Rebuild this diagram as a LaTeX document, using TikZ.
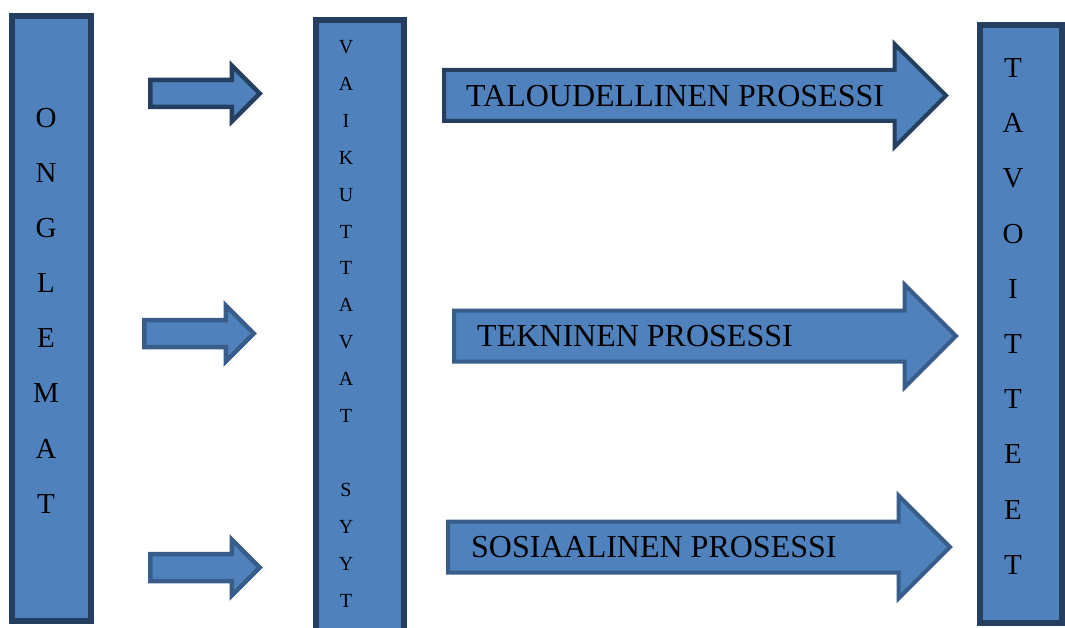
\documentclass[tikz,border=0pt]{standalone}
\usepackage{fontspec}
\setmainfont{Liberation Serif}
\usepackage{xcolor}
\usepackage{tikz}
\usetikzlibrary{shapes.arrows, positioning}

\definecolor{boxfill}{HTML}{4F81BD}
\definecolor{darkline}{HTML}{243F60}
\definecolor{midline}{HTML}{385D8A}

\begin{document}
\begin{tikzpicture}[x=1pt, y=-1pt]
		\tikzstyle{box} = [draw=darkline, fill=boxfill, rectangle, line width=6pt, inner sep=0pt]
		\tikzstyle{bigarrow} = [single arrow, fill=boxfill, line width=4pt, single arrow tip angle=90, single arrow head extend=26pt, inner xsep=0pt, inner ysep=23.5pt, minimum width=0pt, minimum height=502pt, anchor=west]
		\tikzstyle{smallarrow} = [single arrow, fill=boxfill, line width=4.5pt, single arrow tip angle=90, single arrow head extend=14.5pt, inner xsep=0pt, inner ysep=11.25pt, minimum width=0pt, minimum height=109.5pt, anchor=west]
		\tikzstyle{letter} = [inner sep=0pt, font=\fontsize{29}{34}\selectfont]
		\tikzstyle{smallletter} = [inner sep=0pt, font=\fontsize{20}{24}\selectfont]
		\tikzstyle{process} = [inner sep=0pt, anchor=west, font=\fontsize{32}{38}\selectfont]
		
		\useasboundingbox (0, 0) rectangle (1065, 628);
		
		% columns
		\node[box, minimum width=79pt, minimum height=605pt]	at (51.5, 318.5)	(ongelmat)	{};
		\node[box, minimum width=88pt, minimum height=640pt]	at (360, 340)		(syyt)		{};
		\node[box, minimum width=82pt, minimum height=598pt]	at (1021, 324)		(tavoitteet)	{};
		
		\foreach \l [count=\i] in {O,N,G,L,E,M,A,T}
			\node[letter] at (46, 118 + 55.1*\i - 55.1) (ol\i) {\l};
		\foreach \l [count=\i] in {V,A,I,K,U,T,T,A,V,A,T,{},S,Y,Y,T}
			\node[smallletter] at (346, 47 + 36.9*\i - 36.9) (vl\i) {\l};
		\foreach \l [count=\i] in {T,A,V,O,I,T,T,E,E,T}
			\node[letter] at (1013, 68 + 55.2*\i - 55.2) (tl\i) {\l};
		
		% small arrows
		\node[smallarrow, draw=darkline]	at (148, 93.5)	(a1)	{};
		\node[smallarrow, draw=midline]		at (142, 333.5)	(a2)	{};
		\node[smallarrow, draw=midline]		at (148, 567.5)	(a3)	{};
		
		% processes
		\node[bigarrow, draw=darkline]	at (442, 95.5)	(p1)	{};
		\node[bigarrow, draw=midline]	at (452, 336)	(p2)	{};
		\node[bigarrow, draw=midline]	at (446, 547)	(p3)	{};
		
		\node[process]	at (466, 96)	(t1)	{TALOUDELLINEN PROSESSI};
		\node[process]	at (477, 336)	(t2)	{TEKNINEN PROSESSI};
		\node[process]	at (471, 547)	(t3)	{SOSIAALINEN PROSESSI};
	\end{tikzpicture}
\end{document}
